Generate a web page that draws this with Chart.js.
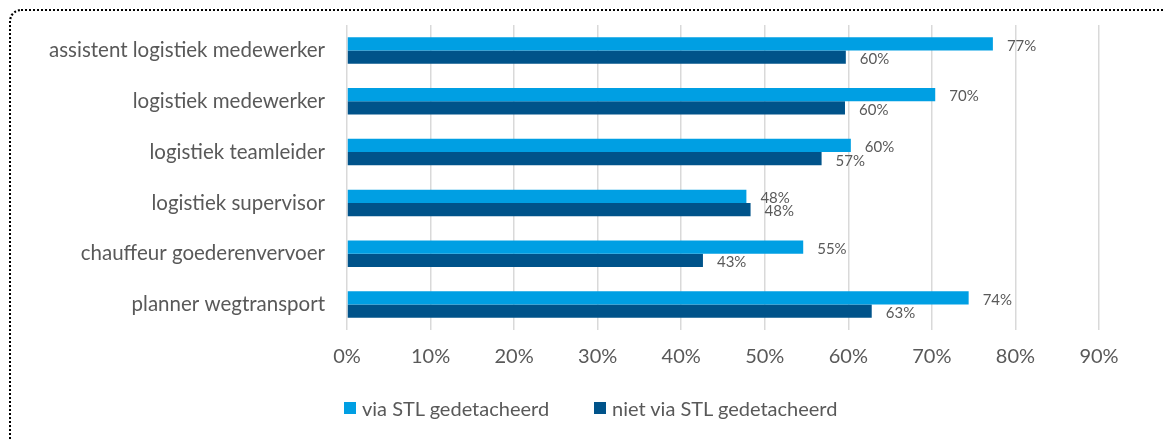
<!DOCTYPE html>
<html>
<head>
<meta charset="utf-8">
<script src="https://cdn.jsdelivr.net/npm/chart.js@4/dist/chart.umd.min.js"></script>
<style>
  html, body { margin: 0; padding: 0; background: #fff; }
  .wrap { position: relative; width: 1163px; height: 439px; overflow: hidden; font-family: Lato, sans-serif; }
  .frame {
    position: absolute; left: 9px; top: 9px; width: 1300px; height: 600px;
    border: 2px dotted #000; border-top-left-radius: 12px; box-sizing: border-box;
  }
  #chart { position: absolute; left: 0; top: 0; }
  .legend { position: absolute; left: 344px; top: 396px; margin: 0; padding: 0; list-style: none; display: flex; }
  .legend li { display: flex; align-items: center; height: 24px; font-size: 20px; color: #595959; width: 250px; }
  .legend-dot { display: inline-block; width: 12px; height: 12px; margin-right: 6px; }
</style>
</head>
<body>
<div class="wrap">
  <div class="frame"></div>
  <canvas id="chart" width="1163" height="439"></canvas>
  <ul class="legend" id="legend"></ul>
</div>
<script>
// ---------- data ----------
const categories = [
  "assistent logistiek medewerker",
  "logistiek medewerker",
  "logistiek teamleider",
  "logistiek supervisor",
  "chauffeur goederenvervoer",
  "planner wegtransport"
];
const viaSTL = [77.3, 70.4, 60.3, 47.8, 54.6, 74.4];
const nietViaSTL = [59.7, 59.6, 56.8, 48.3, 42.6, 62.8];
const seriesNames = ["via STL gedetacheerd", "niet via STL gedetacheerd"];
const xTicks = [0, 10, 20, 30, 40, 50, 60, 70, 80, 90];

const colors = ["#009FE3", "#00538A"];
const textColor = "#595959";

// value labels to the right of each bar
const barLabels = {
  id: "barLabels",
  afterDatasetsDraw(chart) {
    const ctx = chart.ctx;
    ctx.save();
    ctx.font = "15px Lato";
    ctx.fillStyle = textColor;
    ctx.textAlign = "left";
    ctx.textBaseline = "middle";
    chart.data.datasets.forEach((ds, di) => {
      chart.getDatasetMeta(di).data.forEach((bar, i) => {
        ctx.fillText(Math.round(ds.data[i]) + "%", bar.x + 14, bar.y + 2);
      });
    });
    ctx.restore();
  }
};

new Chart(document.getElementById("chart"), {
  type: "bar",
  data: {
    labels: categories,
    datasets: [
      { label: seriesNames[0], data: viaSTL, backgroundColor: colors[0], barPercentage: 1, categoryPercentage: 0.52 },
      { label: seriesNames[1], data: nietViaSTL, backgroundColor: colors[1], barPercentage: 1, categoryPercentage: 0.52 }
    ]
  },
  options: {
    indexAxis: "y",
    responsive: false,
    animation: false,
    layout: { padding: { top: 25, right: 64, bottom: 55, left: 0 } },
    plugins: { legend: { display: false }, tooltip: { enabled: false } },
    scales: {
      x: {
        min: 0,
        max: 90,
        afterBuildTicks: (scale) => { scale.ticks = xTicks.map((v) => ({ value: v })); },
        afterFit: (scale) => { scale.paddingLeft = 0; scale.paddingRight = 0; },
        grid: { color: "#D9D9D9", lineWidth: 1.5, drawTicks: false },
        border: { display: false },
        ticks: { color: textColor, font: { family: "Lato", size: 20 }, padding: 15, callback: (v) => v + "%" }
      },
      y: {
        afterFit: (scale) => { scale.width = 347; scale.paddingTop = 0; scale.paddingBottom = 0; },
        grid: { display: false, drawTicks: false },
        border: { display: false },
        ticks: { color: textColor, font: { family: "Lato", size: 20.5 }, padding: 22 }
      }
    }
  },
  plugins: [barLabels]
});

document.getElementById("legend").innerHTML = seriesNames
  .map((name, i) => `<li><span class="legend-dot" style="background:${colors[i]}"></span>${name}</li>`)
  .join("");
</script>
</body>
</html>
